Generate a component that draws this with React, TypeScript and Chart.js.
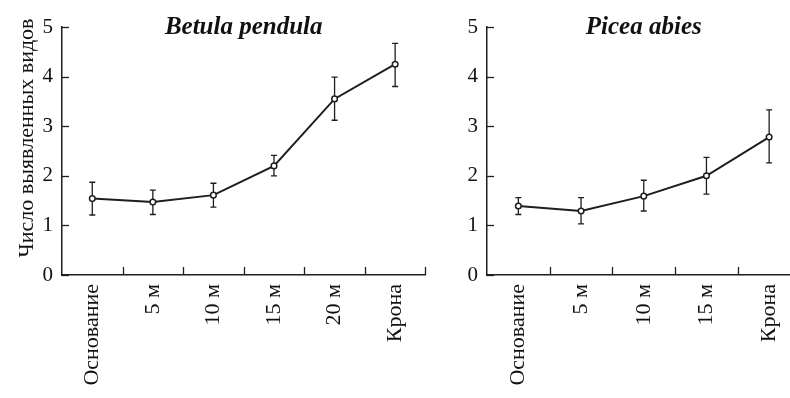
import React, { useEffect, useRef } from "react";
import { Chart, registerables } from "chart.js";
Chart.register(...registerables);

const betulaLabels = ["Основание", "5 м", "10 м", "15 м", "20 м", "Крона"];
const betulaMean = [1.54, 1.47, 1.61, 2.2, 3.55, 4.25];
const betulaLow = [1.21, 1.22, 1.37, 2.0, 3.12, 3.8];
const betulaHigh = [1.87, 1.71, 1.85, 2.41, 3.99, 4.67];

const piceaLabels = ["Основание", "5 м", "10 м", "15 м", "Крона"];
const piceaMean = [1.39, 1.29, 1.59, 2.0, 2.78];
const piceaLow = [1.22, 1.03, 1.29, 1.63, 2.26];
const piceaHigh = [1.56, 1.56, 1.91, 2.37, 3.33];

const yMin = 0;
const yMax = 5;
const yStep = 1;
const yAxisTitle = "Число выявленных видов";

const INK = "#1e1e1e";
const SERIF = "'Liberation Serif', 'DejaVu Serif', serif";

function makePlugin(title: string, low: number[], high: number[], yTitle: string | null) {
  return {
    id: "custom_" + title.replace(/\s/g, ""),
    beforeDatasetsDraw(chart: any) {
      const ctx = chart.ctx;
      const x = chart.scales.x;
      const y = chart.scales.y;
      ctx.save();
      ctx.strokeStyle = INK;
      ctx.lineWidth = 1.3;
      for (let i = 0; i < low.length; i++) {
        const px = x.getPixelForValue(i);
        const y1 = y.getPixelForValue(low[i]);
        const y2 = y.getPixelForValue(high[i]);
        ctx.beginPath();
        ctx.moveTo(px, y1);
        ctx.lineTo(px, y2);
        ctx.moveTo(px - 3, y1);
        ctx.lineTo(px + 3, y1);
        ctx.moveTo(px - 3, y2);
        ctx.lineTo(px + 3, y2);
        ctx.stroke();
      }
      ctx.restore();
    },
    afterDraw(chart: any) {
      const ctx = chart.ctx;
      const x = chart.scales.x;
      const y = chart.scales.y;
      const area = chart.chartArea;
      const n = chart.data.labels.length;
      const half = (x.getPixelForValue(1) - x.getPixelForValue(0)) / 2;
      ctx.save();
      ctx.strokeStyle = INK;
      ctx.lineWidth = 1.3;
      // inward x ticks at category boundaries
      for (let i = 0; i < n; i++) {
        const bx = Math.round(x.getPixelForValue(i) + half) + 0.5;
        ctx.beginPath();
        ctx.moveTo(bx, area.bottom);
        ctx.lineTo(bx, area.bottom - 8);
        ctx.stroke();
      }
      // inward y ticks
      for (const t of y.ticks) {
        const py = Math.round(y.getPixelForValue(t.value)) + 0.5;
        ctx.beginPath();
        ctx.moveTo(area.left, py);
        ctx.lineTo(area.left + 7, py);
        ctx.stroke();
      }
      ctx.fillStyle = "#111";
      ctx.font = "italic bold 25px " + SERIF;
      ctx.textAlign = "center";
      ctx.textBaseline = "middle";
      ctx.fillText(title, (area.left + area.right) / 2, area.top + 1);
      if (yTitle) {
        ctx.save();
        ctx.translate(33, 138);
        ctx.rotate(-Math.PI / 2);
        ctx.font = "22px " + SERIF;
        ctx.textAlign = "center";
        ctx.textBaseline = "alphabetic";
        ctx.fillText(yTitle, 0, 0);
        ctx.restore();
      }
      ctx.restore();
    },
  };
}

function makeConfig(
  labels: string[],
  mean: number[],
  low: number[],
  high: number[],
  title: string,
  yTitle: string | null,
  yWidth: number
): any {
  return {
    type: "line",
    data: {
      labels,
      datasets: [
        {
          data: mean,
          borderColor: INK,
          borderWidth: 2,
          pointRadius: 2.8,
          pointBorderWidth: 1.5,
          pointBackgroundColor: "#ffffff",
          pointBorderColor: INK,
          tension: 0,
          fill: false,
        },
      ],
    },
    options: {
      responsive: false,
      animation: false,
      devicePixelRatio: 1,
      layout: { padding: { top: 27, right: 0, left: 0, bottom: 0 } },
      plugins: { legend: { display: false }, tooltip: { enabled: false }, title: { display: false } },
      scales: {
        x: {
          type: "category",
          offset: true,
          grid: { display: true, drawOnChartArea: false, drawTicks: false },
          border: { display: true, color: INK, width: 1.5 },
          ticks: {
            maxRotation: 90,
            minRotation: 90,
            autoSkip: false,
            padding: 9,
            color: "#111",
            font: { family: SERIF, size: 22 },
          },
          afterFit: (s: any) => {
            s.height = 123;
          },
        },
        y: {
          min: yMin,
          max: yMax,
          ticks: {
            stepSize: yStep,
            padding: 9,
            color: "#111",
            font: { family: SERIF, size: 21 },
          },
          grid: { drawOnChartArea: false, drawTicks: false },
          border: { display: true, color: INK, width: 1.5 },
          afterFit: (s: any) => {
            s.width = yWidth;
          },
        },
      },
    },
    plugins: [makePlugin(title, low, high, yTitle)],
  };
}

function ChartCanvas({ config, width, height, left }: { config: any; width: number; height: number; left: number }) {
  const ref = useRef<HTMLCanvasElement | null>(null);
  useEffect(() => {
    if (!ref.current) return;
    const chart = new Chart(ref.current, config);
    return () => chart.destroy();
  }, [config]);
  return (
    <canvas
      ref={ref}
      width={width}
      height={height}
      style={{ display: "block", position: "absolute", left, top: 0, width, height }}
    />
  );
}

const leftConfig = makeConfig(betulaLabels, betulaMean, betulaLow, betulaHigh, "Betula pendula", yAxisTitle, 62);
const rightConfig = makeConfig(piceaLabels, piceaMean, piceaLow, piceaHigh, "Picea abies", null, 57);

export default function App() {
  return (
    <div style={{ position: "absolute", left: 0, top: 0, width: 790, height: 398, background: "#fff", overflow: "hidden" }}>
      <ChartCanvas config={leftConfig} width={431} height={398} left={0} />
      <ChartCanvas config={rightConfig} width={376} height={398} left={430} />
    </div>
  );
}
